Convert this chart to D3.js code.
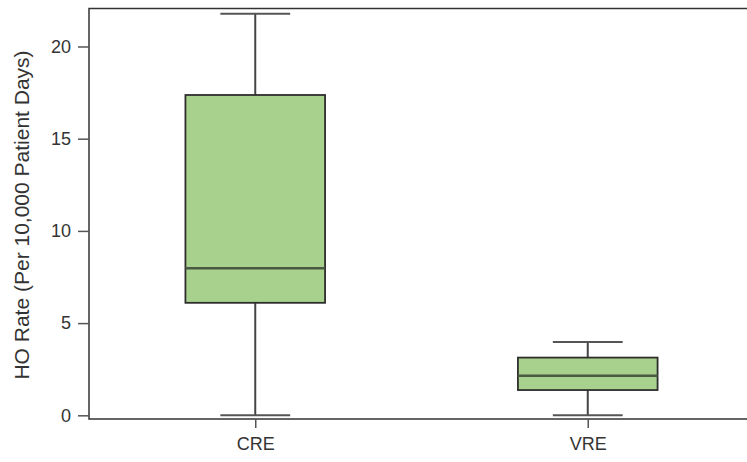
<!DOCTYPE html>
<html>
<head>
<meta charset="utf-8">
<script src="https://cdn.jsdelivr.net/npm/d3@7"></script>
<style>
  body { margin: 0; background: #fff; }
  svg { display: block; font-family: "Liberation Sans", Arial, sans-serif; }
</style>
</head>
<body>
<div id="chart"></div>
<script>
// box plot values
const categories = ["CRE", "VRE"];
const mins = [0, 0];
const q1s = [6.1, 1.37];
const medians = [7.98, 2.15];
const q3s = [17.37, 3.13];
const maxs = [21.77, 3.98];
const yTicks = [0, 5, 10, 15, 20];

const width = 747, height = 462;
const margin = { top: 8.5, left: 89, bottom: 43 };
const plotRight = 754; // frame runs past the right edge of the picture

const svg = d3.select("#chart").append("svg")
  .attr("width", width)
  .attr("height", height);

const x = d3.scalePoint()
  .domain(categories)
  .range([margin.left, plotRight])
  .padding(0.5);

const y = d3.scaleLinear()
  .domain([-0.2, 22.06])
  .range([height - margin.bottom, margin.top]);

const boxW = x.step() * 0.42;
const capW = boxW / 2;

const boxes = categories.map((c, i) => ({
  cat: c, min: mins[i], q1: q1s[i], med: medians[i], q3: q3s[i], max: maxs[i]
}));

const g = svg.append("g");

// whiskers
g.selectAll("line.whisker")
  .data(boxes)
  .join("line")
  .attr("class", "whisker")
  .attr("x1", d => x(d.cat)).attr("x2", d => x(d.cat))
  .attr("y1", d => y(d.min)).attr("y2", d => y(d.max))
  .attr("stroke", "#444").attr("stroke-width", 2);

// caps
["min", "max"].forEach(k => {
  g.selectAll("line.cap-" + k)
    .data(boxes)
    .join("line")
    .attr("class", "cap-" + k)
    .attr("x1", d => x(d.cat) - capW / 2).attr("x2", d => x(d.cat) + capW / 2)
    .attr("y1", d => y(d[k])).attr("y2", d => y(d[k]))
    .attr("stroke", "#555").attr("stroke-width", 2);
});

// boxes
g.selectAll("rect.box")
  .data(boxes)
  .join("rect")
  .attr("class", "box")
  .attr("x", d => x(d.cat) - boxW / 2)
  .attr("width", boxW)
  .attr("y", d => y(d.q3))
  .attr("height", d => y(d.q1) - y(d.q3))
  .attr("fill", "#a7d18d")
  .attr("stroke", "#2e2e2e")
  .attr("stroke-width", 1.8);

// medians
g.selectAll("line.median")
  .data(boxes)
  .join("line")
  .attr("class", "median")
  .attr("x1", d => x(d.cat) - boxW / 2).attr("x2", d => x(d.cat) + boxW / 2)
  .attr("y1", d => y(d.med)).attr("y2", d => y(d.med))
  .attr("stroke", "#4a5943").attr("stroke-width", 2.5);

// frame
const frameBottom = height - margin.bottom;
svg.append("path")
  .attr("d", `M${plotRight},${margin.top}H${margin.left}V${frameBottom}H${plotRight}`)
  .attr("fill", "none")
  .attr("stroke", "#333")
  .attr("stroke-width", 1.5);

// y axis
const yAxis = svg.append("g")
  .attr("transform", `translate(${margin.left},0)`)
  .call(d3.axisLeft(y).tickValues(yTicks).tickSize(11).tickPadding(7));
yAxis.select(".domain").remove();
yAxis.selectAll("line").attr("stroke", "#555").attr("stroke-width", 1.5);
yAxis.selectAll("text").style("font-size", "18px").attr("fill", "#333");

// x axis
const xAxis = svg.append("g")
  .attr("transform", `translate(0,${frameBottom})`)
  .call(d3.axisBottom(x).tickSize(9).tickPadding(9));
xAxis.select(".domain").remove();
xAxis.selectAll("line").attr("stroke", "#555").attr("stroke-width", 1.5);
xAxis.selectAll("text").style("font-size", "18px").attr("fill", "#333");

// y label
svg.append("text")
  .attr("transform", "rotate(-90)")
  .attr("x", -215)
  .attr("y", 29)
  .attr("text-anchor", "middle")
  .style("font-size", "21px")
  .attr("fill", "#333")
  .text("HO Rate (Per 10,000 Patient Days)");
</script>
</body>
</html>
